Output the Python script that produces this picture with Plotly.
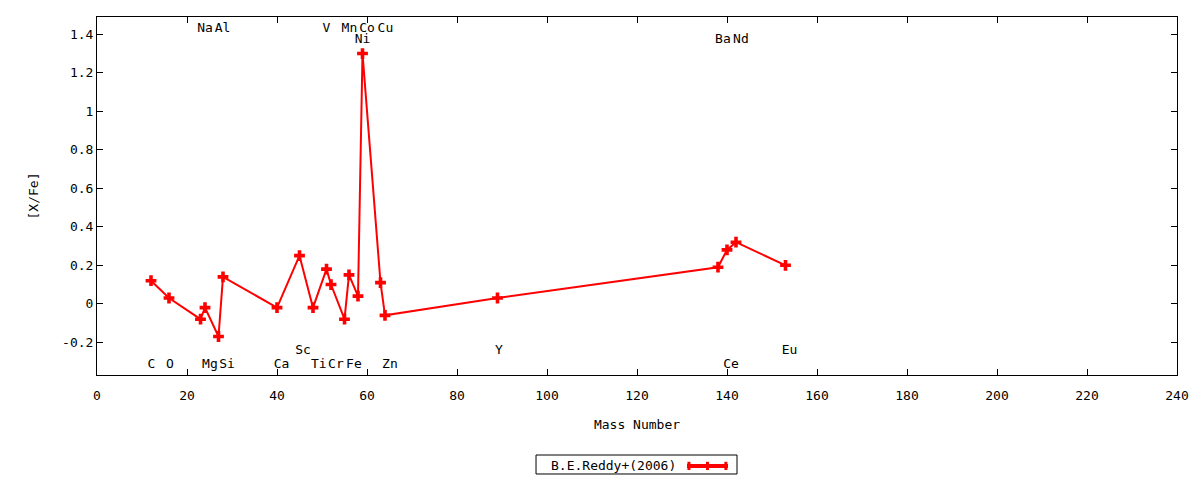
import plotly.graph_objects as go

# [X/Fe] abundances vs. mass number of the most abundant isotope
elements = ['C', 'O', 'Na', 'Mg', 'Al', 'Si', 'Ca', 'Sc', 'Ti', 'V', 'Cr',
            'Mn', 'Fe', 'Ni', 'Co', 'Cu', 'Zn', 'Y', 'Ba', 'Ce', 'Nd', 'Eu']
mass_number = [12, 16, 23, 24, 27, 28, 40, 45, 48, 51, 52,
               55, 56, 58, 59, 63, 64, 89, 138, 140, 142, 153]
x_fe = [0.12, 0.03, -0.08, -0.02, -0.17, 0.14, -0.02, 0.25, -0.02, 0.18, 0.10,
        -0.08, 0.15, 0.04, 1.30, 0.11, -0.06, 0.03, 0.19, 0.28, 0.32, 0.20]

# element name labels, as placed in the figure (data coordinates)
label_text = ['C', 'O', 'Na', 'Al', 'Mg', 'Si', 'Ca', 'Sc', 'Ti', 'Cr', 'Fe',
              'Zn', 'V', 'Mn', 'Co', 'Cu', 'Ni', 'Y', 'Ba', 'Nd', 'Ce', 'Eu']
label_x = [12.1, 16.2, 24.0, 27.9, 25.1, 28.9, 41.0, 45.8, 49.3, 53.1, 57.1,
           65.1, 51.0, 56.1, 60.0, 64.1, 59.0, 89.3, 139.1, 143.1, 140.9, 153.9]
label_y = [-0.316, -0.316, 1.43, 1.43, -0.316, -0.316, -0.316, -0.245, -0.316, -0.316, -0.316,
           -0.316, 1.43, 1.43, 1.43, 1.43, 1.372, -0.245, 1.372, 1.372, -0.316, -0.245]

y_tickvals = [-0.2, 0, 0.2, 0.4, 0.6, 0.8, 1, 1.2, 1.4]
y_ticktext = ['-0.2', '0', '0.2', '0.4', '0.6', '0.8', '1', '1.2', '1.4']

series_name = 'B.E.Reddy+(2006)'
red = '#ff0000'
font_family = 'DejaVu Sans Mono'

fig = go.Figure()

fig.add_trace(go.Scatter(
    x=mass_number,
    y=x_fe,
    mode='lines+markers',
    name=series_name,
    line=dict(color=red, width=2),
    marker=dict(symbol='cross', size=9, color=red),
    text=elements,
    hovertemplate='%{text}: %{y}<extra></extra>',
    showlegend=False
))

fig.add_trace(go.Scatter(
    x=label_x,
    y=label_y,
    mode='text',
    text=label_text,
    textposition='middle center',
    textfont=dict(family=font_family, size=13, color='black'),
    hoverinfo='skip',
    showlegend=False
))

# gnuplot-style key: text on the left, line sample with end caps on the right
key_shapes = [
    dict(type='rect', xref='paper', yref='paper', x0=0.4065, x1=0.5926, y0=-0.2765, y1=-0.2235,
         line=dict(color='black', width=1), fillcolor='white'),
    dict(type='line', xref='paper', yref='paper', x0=0.5463, x1=0.5843, y0=-0.254, y1=-0.254,
         line=dict(color=red, width=4)),
    dict(type='line', xref='paper', yref='paper', x0=0.5481, x1=0.5481, y0=-0.2655, y1=-0.2425,
         line=dict(color=red, width=3)),
    dict(type='line', xref='paper', yref='paper', x0=0.5653, x1=0.5653, y0=-0.2655, y1=-0.2425,
         line=dict(color=red, width=3)),
    dict(type='line', xref='paper', yref='paper', x0=0.5823, x1=0.5823, y0=-0.2655, y1=-0.2425,
         line=dict(color=red, width=3)),
]

fig.update_layout(
    width=1200,
    height=480,
    margin=dict(l=97, r=23, t=17, b=105),
    plot_bgcolor='white',
    paper_bgcolor='white',
    font=dict(family=font_family, size=13, color='black'),
    showlegend=False,
    shapes=key_shapes,
    annotations=[dict(
        text=series_name, xref='paper', yref='paper', x=0.5463, y=-0.254,
        xanchor='right', yanchor='middle', xshift=-9, showarrow=False,
        font=dict(family=font_family, size=13, color='black')
    )]
)

fig.update_xaxes(
    range=[0, 240],
    dtick=20,
    tick0=0,
    showgrid=False,
    zeroline=False,
    showline=True,
    linecolor='black',
    linewidth=1,
    mirror='ticks',
    ticks='inside',
    ticklen=6,
    tickcolor='black',
    ticklabelstandoff=8,
    title=dict(text='Mass Number', standoff=18, font=dict(family=font_family, size=13)),
)
fig.update_yaxes(
    range=[-0.37, 1.49],
    tickvals=y_tickvals,
    ticktext=y_ticktext,
    showgrid=False,
    zeroline=False,
    showline=True,
    linecolor='black',
    linewidth=1,
    mirror='ticks',
    ticks='inside',
    ticklen=6,
    tickcolor='black',
    title=dict(text='[X/Fe]', standoff=20, font=dict(family=font_family, size=13)),
)

# drop the default page margin so the figure sits at the window's corner
fig.write_html('out.html', config={'displayModeBar': False},
               post_script="document.body.style.margin='0';")
